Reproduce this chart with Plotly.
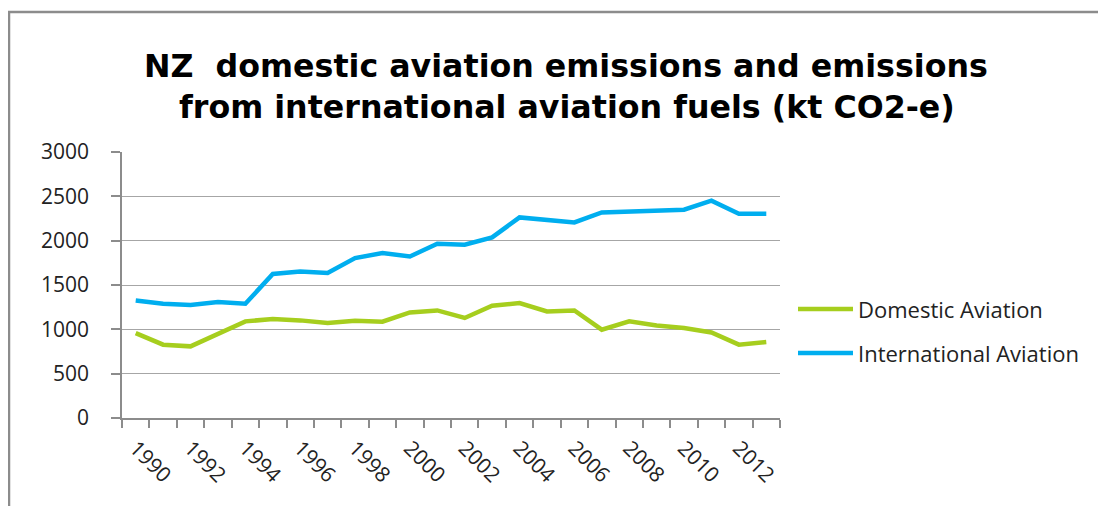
import plotly.graph_objects as go

years = list(range(1990, 2014))
domestic = [958, 827, 808, 947, 1090, 1116, 1101, 1071, 1097, 1086, 1191, 1213,
            1128, 1266, 1297, 1202, 1213, 996, 1090, 1044, 1015, 965, 827, 857]
international = [1326, 1289, 1274, 1308, 1289, 1624, 1653, 1635, 1804, 1861, 1822, 1966,
                 1954, 2037, 2262, 2236, 2206, 2319, 2330, 2330, 2349, 2451, 2304, 2304]
series_names = ["Domestic Aviation", "International Aviation"]
series_colors = ["#A6CE1E", "#00AEEF"]
title_lines = ["NZ  domestic aviation emissions and emissions",
               "from international aviation fuels (kt CO2-e)"]
x_tick_years = list(range(1990, 2013, 2))
y_ticks = [0, 500, 1000, 1500, 2000, 2500, 3000]

# page body has an 8px margin; plot area on screen: x 122..780, y 152..418
OFF = 8
W, H = 1106 - 2 * OFF, 514 - 2 * OFF
PL, PR, PT, PB = 122, 780, 152, 418
L, T = PL - OFF, PT - OFF
R = W - L - (PR - PL)
B = H - T - (PB - PT)
pw, ph = PR - PL, PB - PT

def px(x):
    return (x - PL) / pw

def py(y):
    return (PB - y) / ph

fig = go.Figure()
for name, vals, col in zip(series_names, [domestic, international], series_colors):
    fig.add_trace(go.Scatter(x=years, y=vals, name=name, mode="lines",
                             line=dict(color=col, width=4.5), showlegend=False))

tick_font = dict(family="Open Sans", size=21, color="#222")

fig.update_layout(
    width=W, height=H,
    margin=dict(l=L, r=R, t=T, b=B),
    paper_bgcolor="white", plot_bgcolor="white",
    xaxis=dict(range=[1989.5, 2013.5], tickmode="array", tickvals=x_tick_years,
               ticktext=[str(y) for y in x_tick_years], tickangle=45, ticks="",
               showgrid=False, zeroline=False, showline=True, linecolor="#8C8C8C",
               linewidth=1.5, tickfont=tick_font, automargin=False, ticklabelstandoff=8,
               minor=dict(tickmode="array", tickvals=[y - 0.5 for y in range(1990, 2015)],
                          ticks="outside", ticklen=8, tickcolor="#8C8C8C", tickwidth=1.5,
                          showgrid=False)),
    yaxis=dict(range=[0, 3000], tickmode="array", tickvals=y_ticks, ticks="outside",
               ticklen=9, tickcolor="#8C8C8C", tickwidth=1.5, showline=True,
               linecolor="#8C8C8C", linewidth=1.5, showgrid=True, gridcolor="#A6A6A6",
               gridwidth=1.2, zeroline=False, tickfont=tick_font, ticklabelstandoff=18,
               automargin=False),
)

# chart border
fig.add_shape(type="rect", xref="paper", yref="paper", x0=px(9), x1=px(1140),
              y0=py(560), y1=py(12), line=dict(color="#8C8C8C", width=2.5), layer="below")

# title
fig.add_annotation(text="<b>" + title_lines[0] + "</b>", xref="paper", yref="paper",
                   x=px(566), y=py(66), xanchor="center", yanchor="middle", showarrow=False,
                   font=dict(family="DejaVu Sans", size=31.7, color="black"))
fig.add_annotation(text="<b>" + title_lines[1] + "</b>", xref="paper", yref="paper",
                   x=px(567), y=py(107), xanchor="center", yanchor="middle", showarrow=False,
                   font=dict(family="DejaVu Sans", size=31.7, color="black"))

# legend
for i, (name, col) in enumerate(zip(series_names, series_colors)):
    yy = 309 + i * 44
    fig.add_shape(type="line", xref="paper", yref="paper", x0=px(798), x1=px(853),
                  y0=py(yy), y1=py(yy), line=dict(color=col, width=4.5))
    fig.add_annotation(text=name, xref="paper", yref="paper", x=px(856), y=py(yy),
                       xanchor="left", yanchor="middle", showarrow=False,
                       font=dict(family="Open Sans", size=22, color="#222"))

fig.write_html("out.html")
